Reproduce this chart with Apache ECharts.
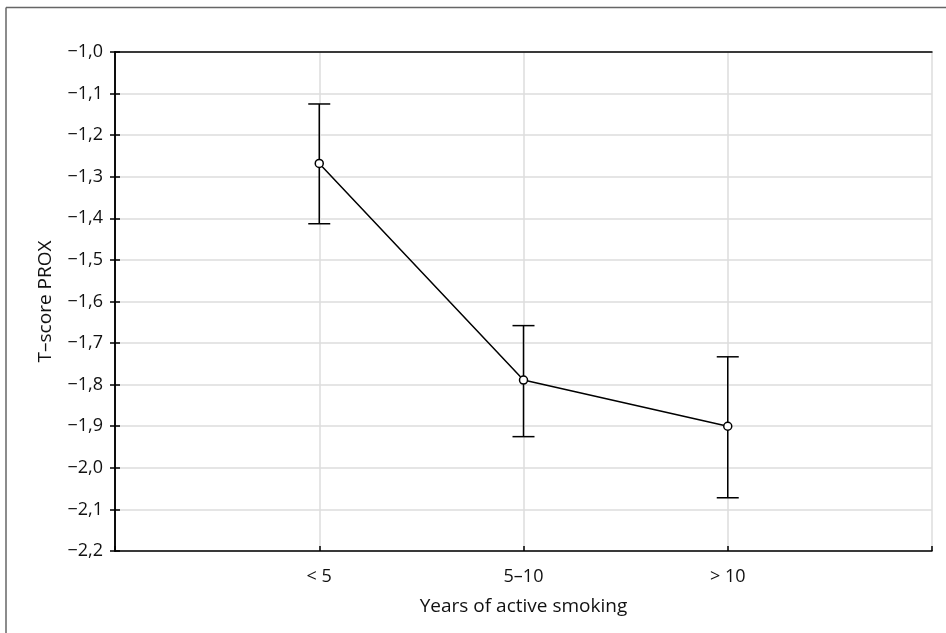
<!DOCTYPE html>
<html>
<head>
<meta charset="utf-8">
<script src="https://cdn.jsdelivr.net/npm/echarts@6/dist/echarts.min.js"></script>
<style>
html,body{margin:0;padding:0;background:#fff;}
#chart{width:946px;height:633px;}
</style>
</head>
<body>
<div id="chart"></div>
<script>
var categories = ['< 5', '5–10', '> 10'];
var means = [-1.268, -1.789, -1.900];
var lowerCI = [-1.413, -1.925, -2.072];
var upperCI = [-1.125, -1.658, -1.733];
var yTicks = [-2.2, -1.0, 0.1]; // min, max, interval
var xAxisTitle = 'Years of active smoking';
var yAxisTitle = 'T–score PROX';

var fontFam = '"Open Sans", "Noto Sans", sans-serif';
var fs = 18;
var fsName = 19;
function fmtY(v) {
  return v.toFixed(1).replace('.', ',').replace('-', '\u2212');
}
function fmtX(v) {
  var i = Math.round(v) - 1;
  return (i >= 0 && i < categories.length) ? categories[i] : '';
}
var linePts = means.map(function (m, i) { return [i + 1, m]; });
var errPts = categories.map(function (c, i) { return [i + 1, lowerCI[i], upperCI[i]]; });

var chart = echarts.init(document.getElementById('chart'), null, {renderer: 'canvas'});
var axisLineStyle = {color: '#000', width: 1.5};
var option = {
  backgroundColor: '#fff',
  animation: false,
  grid: {left: 115, right: 14, top: 52, bottom: 82, containLabel: false},
  graphic: [
    {type: 'line', shape: {x1: 6, y1: 7.5, x2: 946, y2: 7.5}, style: {stroke: '#666', lineWidth: 1.5}},
    {type: 'line', shape: {x1: 6, y1: 7.5, x2: 6, y2: 633}, style: {stroke: '#666', lineWidth: 1.5}}
  ],
  xAxis: [{
    type: 'value', min: 0, max: 4, interval: 1, position: 'bottom',
    name: xAxisTitle, nameLocation: 'middle', nameGap: 46,
    nameTextStyle: {fontFamily: fontFam, fontSize: fsName, color: '#111'},
    axisLine: {show: true, lineStyle: axisLineStyle},
    axisTick: {show: true, inside: true, length: 5, lineStyle: {color: '#000', width: 1.5}},
    axisLabel: {formatter: fmtX, fontFamily: fontFam, fontSize: fs, color: '#111', margin: 17},
    splitLine: {show: true, lineStyle: {color: '#dcdcdc', width: 1.5}}
  }, {
    type: 'value', min: 0, max: 4, interval: 1, position: 'top',
    axisLine: {show: true, lineStyle: axisLineStyle},
    axisTick: {show: false}, axisLabel: {show: false}, splitLine: {show: false}
  }],
  yAxis: [{
    type: 'value', min: yTicks[0], max: yTicks[1], interval: yTicks[2], position: 'left',
    name: yAxisTitle, nameLocation: 'middle', nameGap: 60, nameRotate: 90,
    nameTextStyle: {fontFamily: fontFam, fontSize: fsName, color: '#111'},
    axisLine: {show: true, lineStyle: axisLineStyle},
    axisTick: {show: true, inside: true, length: 5, lineStyle: {color: '#000', width: 1.5}},
    axisLabel: {formatter: fmtY, fontFamily: fontFam, fontSize: fs, color: '#111', margin: 12},
    splitLine: {show: true, lineStyle: {color: '#dcdcdc', width: 1.5}}
  }, {
    type: 'value', min: yTicks[0], max: yTicks[1], interval: yTicks[2], position: 'right',
    axisLine: {show: true, lineStyle: axisLineStyle},
    axisTick: {show: true, inside: true, length: 5, lineStyle: {color: '#000', width: 1.5}},
    axisLabel: {show: false}, splitLine: {show: false}
  }],
  series: [{
    type: 'custom',
    xAxisIndex: 0, yAxisIndex: 0,
    data: errPts,
    z: 3,
    renderItem: function (params, api) {
      var x = api.value(0);
      var lo = api.coord([x, api.value(1)]);
      var hi = api.coord([x, api.value(2)]);
      var hw = 11;
      var st = {stroke: '#000', lineWidth: 1.5};
      return {type: 'group', children: [
        {type: 'line', shape: {x1: lo[0], y1: lo[1], x2: hi[0], y2: hi[1]}, style: st},
        {type: 'line', shape: {x1: lo[0] - hw, y1: lo[1], x2: lo[0] + hw, y2: lo[1]}, style: st},
        {type: 'line', shape: {x1: hi[0] - hw, y1: hi[1], x2: hi[0] + hw, y2: hi[1]}, style: st}
      ]};
    }
  }, {
    type: 'line',
    xAxisIndex: 0, yAxisIndex: 0,
    data: linePts,
    z: 4,
    symbol: 'circle', symbolSize: 8, showAllSymbol: true,
    lineStyle: {color: '#000', width: 1.5},
    itemStyle: {color: '#fff', borderColor: '#000', borderWidth: 1.5}
  }]
};
chart.setOption(option);
</script>
</body>
</html>
